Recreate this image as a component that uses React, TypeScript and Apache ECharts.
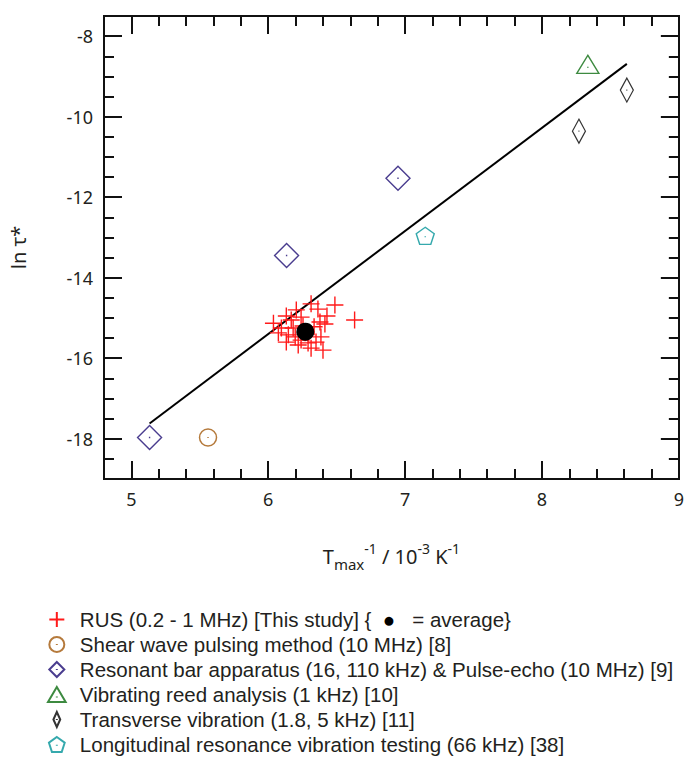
import React, { useEffect, useRef } from 'react';
import * as echarts from 'echarts';

// ---- data ----
const xMajorTicks = [5, 6, 7, 8, 9];
const xMinorTicks = [5.2, 5.4, 5.6, 5.8, 6.2, 6.4, 6.6, 6.8, 7.2, 7.4, 7.6, 7.8, 8.2, 8.4, 8.6, 8.8];
const yMajorTicks = [-18, -16, -14, -12, -10, -8];
const yMinorTicks = [-18.5, -17.5, -17, -16.5, -15.5, -15, -14.5, -13.5, -13, -12.5, -11.5, -11, -10.5, -9.5, -9, -8.5];

const rusPoints: [number, number][] = [
  [6.631, -15.05], [6.487, -14.68], [6.429, -14.95], [6.363, -14.78], [6.313, -14.65],
  [6.378, -15.10], [6.335, -15.22], [6.414, -15.15], [6.240, -14.98], [6.168, -15.05],
  [6.038, -15.13], [6.096, -15.25], [6.074, -15.37], [6.147, -15.42], [6.197, -15.47],
  [6.240, -15.55], [6.291, -15.62], [6.349, -15.60], [6.385, -15.47], [6.313, -15.75],
  [6.219, -15.67], [6.132, -15.60], [6.269, -15.37], [6.182, -15.25], [6.254, -15.20],
  [6.132, -14.95], [6.400, -15.80], [6.205, -14.80],
];
const rusAverage: [number, number][] = [[6.271, -15.34]];
const shearPoints: [number, number][] = [[5.56, -17.97]];
const resonantPoints: [number, number][] = [[5.133, -17.97], [6.134, -13.45], [6.948, -11.53]];
const reedPoints: [number, number][] = [[8.335, -8.7]];
const transversePoints: [number, number][] = [[8.62, -9.34], [8.27, -10.36]];
const longitudinalPoints: [number, number][] = [[7.147, -12.96]];
const fitLine: [number, number][] = [[5.133, -17.62], [8.62, -8.69]];

const seriesNames = [
  'RUS (0.2 - 1 MHz) [This study]',
  'Shear wave pulsing method (10 MHz) [8]',
  'Resonant bar apparatus (16, 110 kHz) & Pulse-echo (10 MHz) [9]',
  'Vibrating reed analysis (1 kHz) [10]',
  'Transverse vibration (1.8, 5 kHz) [11]',
  'Longitudinal resonance vibration testing (66 kHz) [38]',
];

const FONT = 'Noto Sans';
const LEGEND_FONT = 'Liberation Sans';
const INK = '#231f20';

const SYM_CROSS = 'path://M0,10 L20,10 M10,0 L10,20';
const SYM_CIRCLE = 'path://M20,10 A10,10 0 1,1 0,10 A10,10 0 1,1 20,10 Z M10,9.4 L10,10.6';
const SYM_DIAMOND = 'path://M10,0 L20,10 L10,20 L0,10 Z M10,9.4 L10,10.6';
const SYM_TRIANGLE = 'path://M10,0 L20,17 L0,17 Z M10,10.8 L10,11.8';
const SYM_NARROW = 'path://M5,0 L10,11 L5,22 L0,11 Z M5,10.4 L5,11.6';
const SYM_PENTA = 'path://M10,0 L19.51,6.91 L15.88,18.09 L4.12,18.09 L0.49,6.91 Z M10,9.4 L10,10.6';

function makeAxis(kind: 'x' | 'y', position: string, values: number[], len: number, main: boolean) {
  const range = kind === 'x' ? { min: 4.8, max: 9 } : { min: -19, max: -7.5 };
  return {
    type: 'value',
    position,
    ...range,
    splitLine: { show: false },
    axisLine: { show: true, onZero: false, lineStyle: { color: '#111', width: 2 } },
    axisTick: { show: true, inside: true, length: len, lineStyle: { color: '#111', width: 2 }, customValues: values },
    axisLabel: main
      ? { show: true, customValues: values, fontFamily: FONT, fontSize: 18, color: INK, margin: 11 }
      : { show: false },
  };
}

export default function App() {
  const ref = useRef<HTMLDivElement>(null);
  useEffect(() => {
    if (!ref.current) return;
    const chart = echarts.init(ref.current, undefined, { renderer: 'svg' });
    const xMain: any = makeAxis('x', 'bottom', xMajorTicks, 18, true);
    xMain.name = '{n|T}{sub|max}{sup|-1}{n| / 10}{sup|-3}{n| K}{sup|-1}';
    xMain.nameLocation = 'middle';
    xMain.nameGap = 62;
    xMain.nameTextStyle = {
      fontFamily: FONT,
      color: INK,
      rich: {
        n: { fontSize: 20, lineHeight: 30, verticalAlign: 'middle', fontFamily: FONT, color: INK },
        sub: { fontSize: 15, lineHeight: 30, verticalAlign: 'bottom', fontFamily: FONT, color: INK },
        sup: { fontSize: 14, lineHeight: 30, verticalAlign: 'top', fontFamily: FONT, color: INK },
      },
    };
    const yMain: any = makeAxis('y', 'left', yMajorTicks, 18, true);
    yMain.name = 'ln τ*';
    yMain.nameLocation = 'middle';
    yMain.nameGap = 76;
    yMain.nameRotate = 90;
    yMain.nameTextStyle = { fontFamily: FONT, fontSize: 20, color: INK };

    const option: any = {
      animation: false,
      backgroundColor: '#fff',
      grid: { left: 100, top: 16, right: 8, bottom: 286, containLabel: false },
      xAxis: [
        xMain,
        makeAxis('x', 'bottom', xMinorTicks, 10, false),
        makeAxis('x', 'top', xMajorTicks, 18, false),
        makeAxis('x', 'top', xMinorTicks, 10, false),
      ],
      yAxis: [
        yMain,
        makeAxis('y', 'left', yMinorTicks, 10, false),
        makeAxis('y', 'right', yMajorTicks, 18, false),
        makeAxis('y', 'right', yMinorTicks, 10, false),
      ],
      legend: {
        orient: 'vertical',
        left: 47,
        top: 609,
        width: 638,
        height: 156,
        padding: 0,
        itemWidth: 36,
        itemHeight: 15,
        itemGap: 4,
        selectedMode: false,
        data: seriesNames,
        textStyle: {
          fontFamily: LEGEND_FONT,
          fontSize: 20.5,
          lineHeight: 20,
          color: INK,
          rich: {
            dot: { fontFamily: LEGEND_FONT, fontSize: 20.5, lineHeight: 20, color: '#000' },
          },
        },
        formatter: (n: string) => (n === seriesNames[0] ? n + ' {  {dot|●}   = average}' : n),
      },
      series: [
        {
          type: 'line',
          data: fitLine,
          symbol: 'none',
          lineStyle: { color: '#000', width: 2 },
          z: 1,
          silent: true,
        },
        {
          name: seriesNames[0],
          type: 'scatter',
          data: rusPoints,
          symbol: SYM_CROSS,
          symbolSize: 17,
          itemStyle: { color: 'transparent', borderColor: '#ff1a1a', borderWidth: 1.4, opacity: 1 },
          z: 3,
        },
        {
          name: 'average',
          type: 'scatter',
          data: rusAverage,
          symbol: 'circle',
          symbolSize: 18,
          itemStyle: { color: '#000', opacity: 1 },
          z: 5,
        },
        {
          name: seriesNames[1],
          type: 'scatter',
          data: shearPoints,
          symbol: SYM_CIRCLE,
          symbolSize: 17,
          itemStyle: { color: 'transparent', borderColor: '#b57a3c', borderWidth: 1.5, opacity: 1 },
        },
        {
          name: seriesNames[2],
          type: 'scatter',
          data: resonantPoints,
          symbol: SYM_DIAMOND,
          symbolSize: 24,
          itemStyle: { color: 'transparent', borderColor: '#4a3d8f', borderWidth: 1.4, opacity: 1 },
        },
        {
          name: seriesNames[3],
          type: 'scatter',
          data: reedPoints,
          symbol: SYM_TRIANGLE,
          symbolSize: [22, 18],
          itemStyle: { color: 'transparent', borderColor: '#3d8a40', borderWidth: 1.4, opacity: 1 },
        },
        {
          name: seriesNames[4],
          type: 'scatter',
          data: transversePoints,
          symbol: SYM_NARROW,
          symbolSize: [13, 24],
          itemStyle: { color: 'transparent', borderColor: '#333333', borderWidth: 1.3, opacity: 1 },
        },
        {
          name: seriesNames[5],
          type: 'scatter',
          data: longitudinalPoints,
          symbol: SYM_PENTA,
          symbolSize: [18, 17],
          itemStyle: { color: 'transparent', borderColor: '#35a9ad', borderWidth: 1.4, opacity: 1 },
        },
      ],
    };
    chart.setOption(option);
    return () => chart.dispose();
  }, []);
  return <div ref={ref} style={{ position: 'fixed', left: 0, top: 0, width: 687, height: 765 }} />;
}
